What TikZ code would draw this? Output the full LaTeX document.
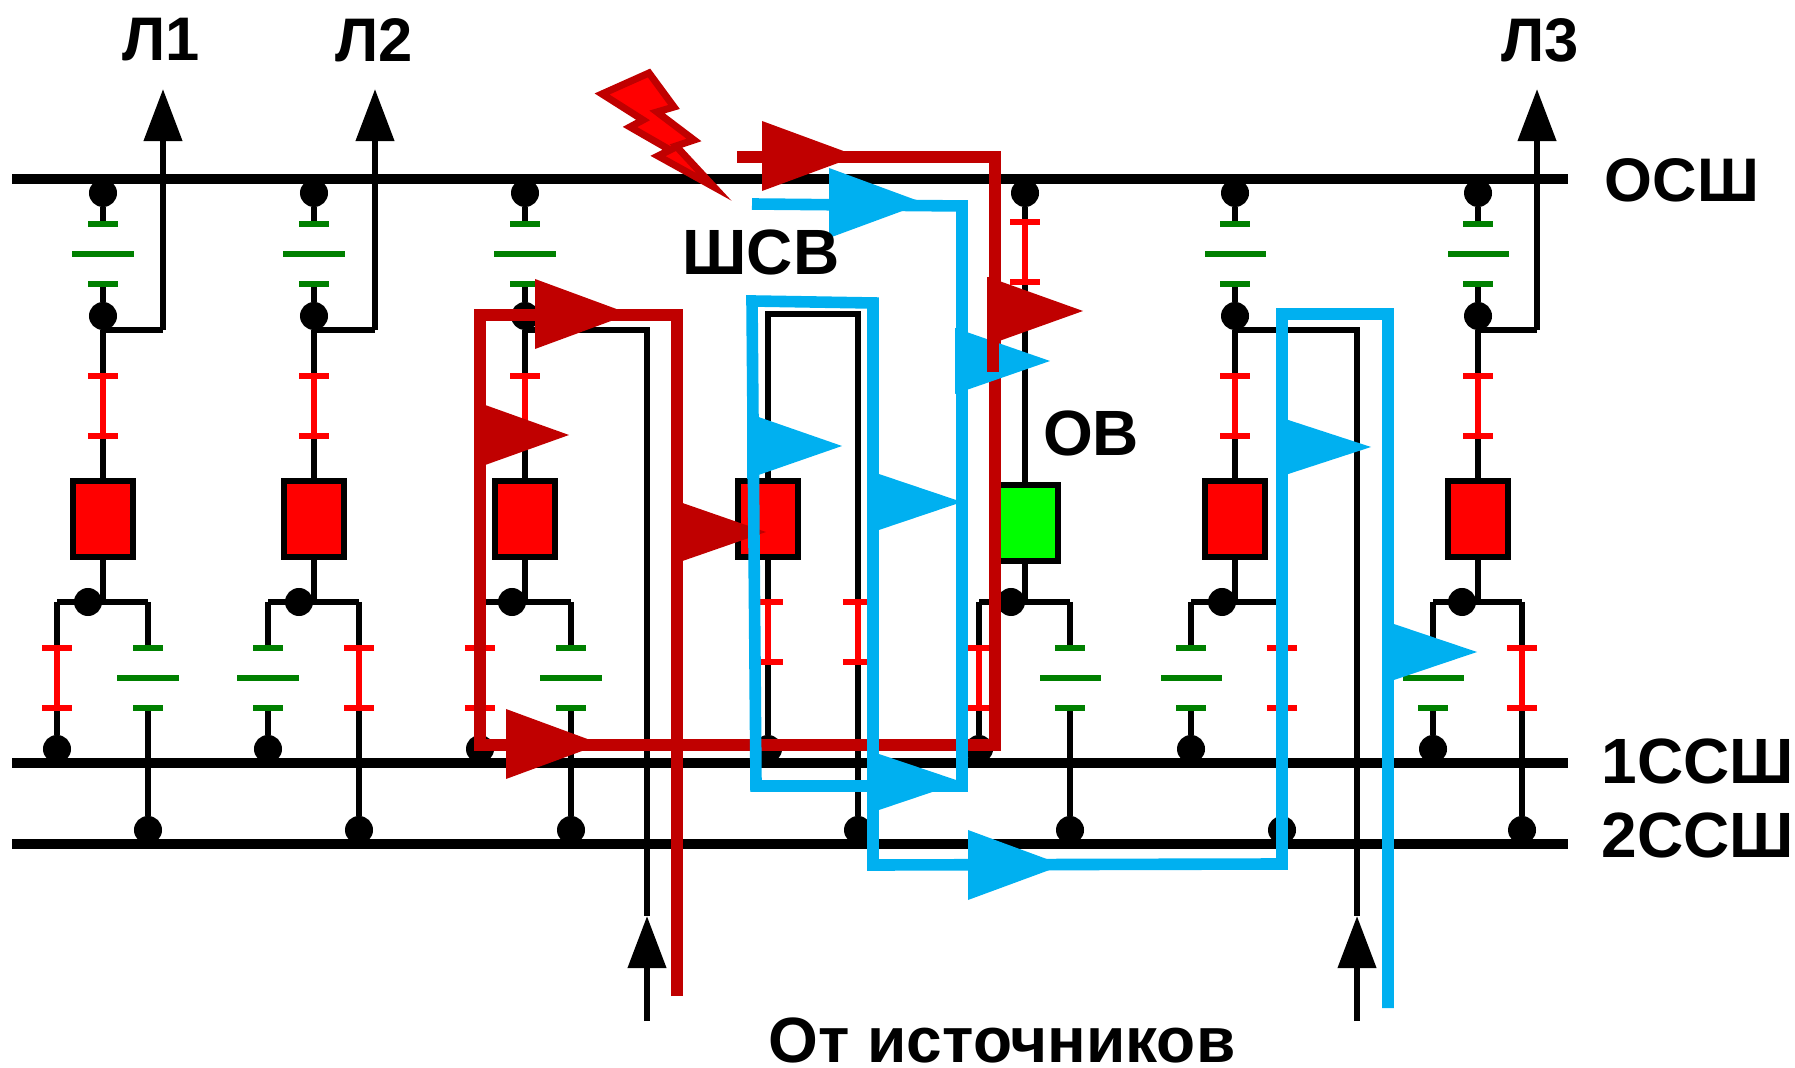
\documentclass[tikz,border=0pt]{standalone}
\usepackage{fontspec}
\setmainfont{Liberation Sans}
\usetikzlibrary{arrows.meta}
\definecolor{kr}{HTML}{C00000}
\definecolor{sin}{HTML}{00B0F0}
\definecolor{zel}{HTML}{008000}
\tikzstyle{bus} = [line width=2.7pt, draw]
\tikzstyle{wire} = [line width=1.85pt, draw]
\tikzstyle{dot} = [circle, fill=black, minimum size=.28cm, inner sep=0pt, outer sep=0pt]
\tikzstyle{brk} = [rectangle, draw, line width=1.85pt, fill=red, minimum width=.6cm,
                 minimum height=.755cm, inner sep=0pt, outer sep=0pt]
\tikzstyle{redtick} = [rectangle, fill=red, minimum width=.305cm, minimum height=.065cm,
                 inner sep=0pt, outer sep=0pt]
\tikzstyle{redlink} = [line width=1.85pt, draw=red]
\tikzstyle{grtick} = [rectangle, fill=zel, minimum width=.305cm, minimum height=.065cm,
                 inner sep=0pt, outer sep=0pt]
\tikzstyle{grbig} = [grtick, minimum width=.61cm]
\tikzstyle{lbl} = [font=\fontsize{18.2}{20}\selectfont\bfseries, inner sep=0pt]
\tikzstyle{lblm} = [font=\fontsize{17.5}{20}\selectfont\bfseries, inner sep=0pt]
\tikzstyle{strel} = [line width=1.85pt, draw, -{Triangle[length=14.8pt,width=10.6pt]}]
\tikzstyle{tokk} = [line width=3.4pt, draw=kr]
\tikzstyle{toks} = [line width=3.3pt, draw=sin]
\newcommand{\otkl}[3]{
	\node [redtick] (#1-t) at (#2,#3) {};
	\node [redtick] (#1-b) at (#2,#3+60) {};
	\path [redlink] (#1-t) -- (#1-b);
}
\newcommand{\zaz}[3]{
	\node [grtick] (#1-t) at (#2,#3) {};
	\node [grbig] (#1-m) at (#2,#3+30) {};
	\node [grtick] (#1-b) at (#2,#3+60) {};
}
\newcommand{\golova}[4]{
	\fill [#1] (#2,#3-#4) -- (#2+95,#3) -- (#2,#3+#4) -- cycle;
}

\begin{document}
\begin{tikzpicture}[x=0.01cm, y=-0.01cm]
\useasboundingbox (0,0) rectangle (1795,1068);

%buses
\foreach \n/\y in {osh/179, ssh1/763, ssh2/844} {
	\coordinate (\n-l) at (12,\y);
	\coordinate (\n-r) at (1568,\y);
	\path [bus] (\n-l) -- (\n-r);
}

%upper part of the bays
\foreach \n/\x in {a/103, b/314, c/525, f/1235, g/1478} {
	\node [dot] (top\n) at (\x,193) {};
	\zaz{zv\n}{\x}{224}
	\node [dot] (mid\n) at (\x,316) {};
	\otkl{qv\n}{\x}{376}
	\node [brk] (brk\n) at (\x,519) {};
	\coordinate (j\n) at (\x,602);
	\coordinate (o\n) at (\x,330);
	\path [wire] (top\n) -- (zv\n-t);
	\path [wire] (zv\n-b) -- (mid\n);
	\path [wire] (mid\n) -- (qv\n-t);
	\path [wire] (qv\n-b) -- (brk\n);
	\path [wire] (brk\n) -- (j\n);
}

%lower part, disconnector on the left
\foreach \n/\d/\l/\r in {a/88/57/148, c/512/480/571, o/1011/979/1070} {
	\node [dot] (dj\n) at (\d,602) {};
	\coordinate (jl\n) at (\l,602);
	\coordinate (jr\n) at (\r,602);
	\otkl{ql\n}{\l}{648}
	\zaz{zr\n}{\r}{648}
	\node [dot] (d1\n) at (\l,749) {};
	\node [dot] (d2\n) at (\r,830) {};
	\path [wire] (jl\n) -- (jr\n);
	\path [wire] (jl\n) -- (ql\n-t);
	\path [wire] (jr\n) -- (zr\n-t);
	\path [wire] (ql\n-b) -- (d1\n);
	\path [wire] (zr\n-b) -- (d2\n);
}

%lower part, disconnector on the right
\foreach \n/\d/\l/\r in {b/299/268/359, f/1222/1191/1282, g/1462/1433/1522} {
	\node [dot] (dj\n) at (\d,602) {};
	\coordinate (jl\n) at (\l,602);
	\coordinate (jr\n) at (\r,602);
	\zaz{zl\n}{\l}{648}
	\otkl{qr\n}{\r}{648}
	\node [dot] (d1\n) at (\l,749) {};
	\node [dot] (d2\n) at (\r,830) {};
	\path [wire] (jl\n) -- (jr\n);
	\path [wire] (jl\n) -- (zl\n-t);
	\path [wire] (jr\n) -- (qr\n-t);
	\path [wire] (zl\n-b) -- (d1\n);
	\path [wire] (qr\n-b) -- (d2\n);
}

%lines
\foreach \n/\x in {a/163, b/375, g/1537} {
	\coordinate (lc\n) at (\x,330);
	\coordinate (lt\n) at (\x,89);
	\path [wire] (o\n) -- (lc\n);
	\path [strel] (lc\n) -- (lt\n);
}

%sources
\foreach \n/\x in {c/647, f/1357} {
	\coordinate (ic\n) at (\x,330);
	\coordinate (it\n) at (\x,916);
	\coordinate (if\n) at (\x,1021);
	\path [wire] (o\n) -- (ic\n) -- (it\n);
	\path [strel] (if\n) -- (it\n);
}

%bus coupler
\coordinate (shl) at (768,314);
\coordinate (shr) at (858,314);
\node [brk] (brks) at (768,519) {};
\otkl{qsl}{768}{602}
\otkl{qsr}{858}{602}
\node [dot] (d1s) at (768,749) {};
\node [dot] (d2s) at (858,830) {};
\path [wire] (brks) -- (shl) -- (shr) -- (qsr-t);
\path [wire] (brks) -- (qsl-t);
\path [wire] (qsl-b) -- (d1s);
\path [wire] (qsr-b) -- (d2s);

%bypass
\node [dot] (topo) at (1025,193) {};
\otkl{qvo}{1025}{222}
\node [brk, fill=green] (brko) at (1028,523) {};
\coordinate (jo) at (1025,602);
\path [wire] (topo) -- (qvo-t);
\path [wire] (qvo-b) -- (qvo-b |- brko.north);
\path [wire] (jo) -- (jo |- brko.south);

%fault
\filldraw [draw=kr, fill=red, line width=2pt, miter limit=20]
	(602,94) -- (649,73) -- (674,107) -- (657,112) -- (694,140) -- (676,146)
	-- (714,187) -- (658,156) -- (670,150) -- (630,127) -- (643,120) -- cycle;

%short circuit current
\foreach \n/\x/\y in {k1/677/996, k2/677/315, k3/480/315, k4/480/745, k5/995/745, k6/995/157, k7/737/157} 
	\coordinate (\n) at (\x,\y);
\path [tokk] (k1) -- (k2) -- (k3) -- (k4) -- (k5) -- (k6) -- (k7);
\golova{kr}{762}{156}{35}
\golova{kr}{535}{314}{35}
\golova{kr}{474}{435}{34}
\golova{kr}{671}{532}{33}
\golova{kr}{506}{744}{35}

\foreach \n/\x/\y in {s1/752/204, s2/962/206, s3/962/786, s4/756/786, s5/752/301, s6/873/303, s7/873/865,
		s8/1282/864, s9/1282/314, s10/1388/314, s11/1388/1008}
	\coordinate (\n) at (\x,\y);
\path [toks] (s1) -- (s2) -- (s3) -- (s4) -- (s5) -- (s6) -- (s7) -- (s8) -- (s9) -- (s10) -- (s11);
\golova{sin}{829}{203}{35}
\golova{sin}{955}{361}{33}
\golova{sin}{747}{446}{33}
\golova{sin}{867}{502}{32}
\golova{sin}{867}{782}{32}
\golova{sin}{968}{865}{35}
\golova{sin}{1276}{447}{31}
\golova{sin}{1382}{652}{32}

\coordinate (k8) at (993,277);
\coordinate (k9) at (993,372);
\path [tokk] (k8) -- (k9);
\golova{kr}{988}{311}{34}

%labels
\node [lblm] (l1) at (161,40) {Л1};
\node [lblm] (l2) at (374,40) {Л2};
\node [lblm] (l3) at (1540,40) {Л3};
\node [lblm] (osh) at (1682,180) {ОСШ};
\node [lbl] (ssh1) at (1698,761) {1ССШ};
\node [lbl] (ssh2) at (1698,835) {2ССШ};
\node [lbl] (shsv) at (761,252) {ШСВ};
\node [lbl] (ov) at (1091,433) {ОВ};
\node [lbl] (ist) at (1002,1040) {От источников};

\end{tikzpicture}
\end{document}
